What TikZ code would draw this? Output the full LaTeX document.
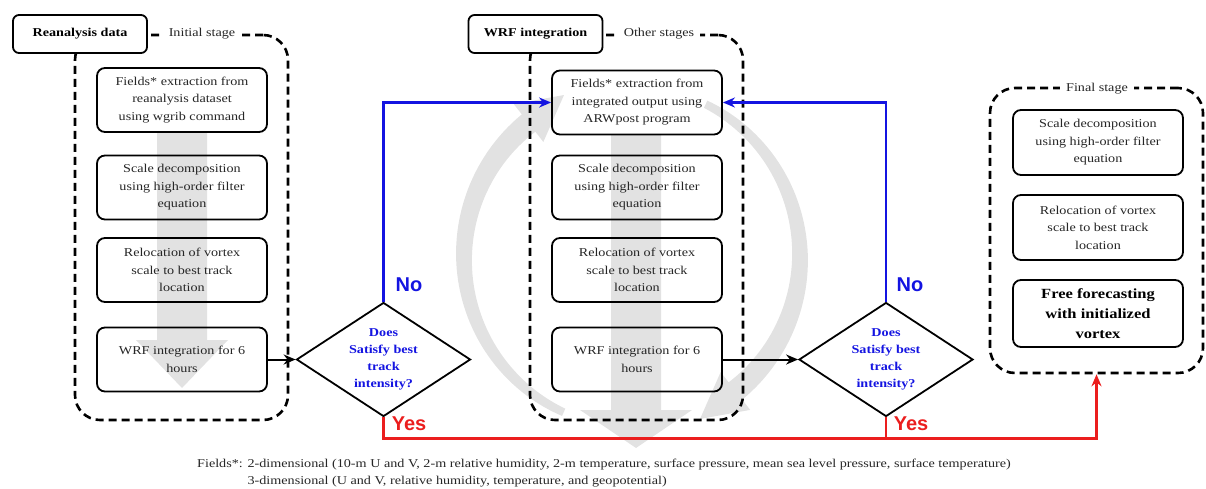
\documentclass[tikz,border=0pt]{standalone}
\usepackage{fontspec}
\setmainfont{Liberation Serif}[FakeStretch=1.18]
\newfontfamily\labelfont{Liberation Sans}
\usetikzlibrary{shapes.geometric,arrows.meta}
\definecolor{myblue}{RGB}{20,20,225}
\definecolor{myred}{RGB}{235,30,30}
\definecolor{garrow}{RGB}{226,226,226}
\tikzset{
  box/.style={draw, line width=1.8pt, rounded corners=8pt, minimum width=170pt, minimum height=64pt, align=center, text=black!85, font=\fontsize{12}{17.5}\selectfont, inner sep=0pt},
  hdr/.style={draw, line width=1.8pt, rounded corners=6pt, fill=white, minimum width=134pt, minimum height=38pt, inner sep=0pt, font=\bfseries\fontsize{12}{14}\selectfont},
  stageframe/.style={draw, dash pattern=on 8pt off 5pt, line width=2.6pt, rounded corners=25pt, inner sep=0pt},
  stg/.style={fill=white, inner xsep=6pt, inner ysep=2pt, font=\fontsize{12}{14}\selectfont, text=black!85},
  dec/.style={diamond, draw, line width=1.8pt, minimum width=174pt, minimum height=114pt, inner sep=0pt},
  dtxt/.style={align=center, text=myblue, font=\bfseries\fontsize{12}{17}\selectfont},
  yn/.style={font=\labelfont\bfseries\fontsize{20}{22}\selectfont},
  arr/.style={-{Stealth[length=12pt,width=10pt]}, line width=2pt},
}
\begin{document}
\begin{tikzpicture}[x=1pt,y=-1pt]
\useasboundingbox (0,0) rectangle (1206,488);
% gray background arrows
\fill[garrow] (157,132) -- (207,132) -- (207,340) -- (228,340) -- (182,388) -- (136,340) -- (157,340) -- cycle;
\fill[garrow] (611,135) -- (661,135) -- (661,410) -- (692,410) -- (636,448) -- (580,410) -- (611,410) -- cycle;
% left circular arrow
\fill[garrow] plot[domain=246:128, samples=60] ({632+(168+4+7*(246-\x)/118)*cos(\x)},{257-(170+4+7*(246-\x)/118)*sin(\x)})
  -- ({632+192*cos(128)},{257-194*sin(128)})
  -- ({632+174*cos(113)},{257-176*sin(113)})
  -- ({632+144*cos(128)},{257-146*sin(128)})
  -- plot[domain=128:246, samples=60] ({632+(168-4-7*(246-\x)/118)*cos(\x)},{257-(170-4-7*(246-\x)/118)*sin(\x)})
  -- cycle;
% right circular arrow
\fill[garrow] plot[domain=64:-52, samples=60] ({632+(168+4+7*(64-\x)/116)*cos(\x)},{257-(170+4+7*(64-\x)/116)*sin(\x)})
  -- ({632+192*cos(-52)},{257-194*sin(-52)})
  -- ({632+174*cos(-67)},{257-176*sin(-67)})
  -- ({632+144*cos(-52)},{257-146*sin(-52)})
  -- plot[domain=-52:64, samples=60] ({632+(168-4-7*(64-\x)/116)*cos(\x)},{257-(170-4-7*(64-\x)/116)*sin(\x)})
  -- cycle;
% stage frames
\node[stageframe, minimum width=213pt, minimum height=385pt] (lf) at (181.5,227.5) {};
\node[stageframe, minimum width=213pt, minimum height=385pt] (mf) at (636.5,227.5) {};
\node[stageframe, minimum width=213pt, minimum height=285pt] (ff) at (1096.5,230.5) {};
% headers and stage labels
\node[hdr] (rh) at (80,34) {Reanalysis data};
\node[stg] (rl) at (202,34) {Initial stage};
\node[hdr] (wh) at (535.5,34) {WRF integration};
\node[stg] (wl) at (659,34) {Other stages};
\node[stg] (fl) at (1097,89) {Final stage};
% left column
\node[box] (l1) at (182,100) {Fields* extraction from\\reanalysis dataset\\using wgrib command};
\node[box] (l2) at (182,187.5) {Scale decomposition\\using high-order filter\\equation};
\node[box] (l3) at (182,270) {Relocation of vortex\\scale to best track\\location};
\node[box] (l4) at (182,359.5) {WRF integration for 6\\hours};
% middle column
\node[box] (m1) at (637,102.5) {Fields* extraction from\\integrated output using\\ARWpost program};
\node[box] (m2) at (637,187.5) {Scale decomposition\\using high-order filter\\equation};
\node[box] (m3) at (637,270) {Relocation of vortex\\scale to best track\\location};
\node[box] (m4) at (637,359.5) {WRF integration for 6\\hours};
% final column
\node[box, minimum height=65pt] (f1) at (1098,142.5) {Scale decomposition\\using high-order filter\\equation};
\node[box, minimum height=65pt] (f2) at (1098,227.5) {Relocation of vortex\\scale to best track\\location};
\node[box, minimum height=67pt, text=black, font=\bfseries\fontsize{14}{20}\selectfont] (f3) at (1098,313.5) {Free forecasting\\with initialized\\vortex};
% decisions
\node[dec] (d1) at (383.5,359.5) {};
\node[dtxt] (d1t) at (d1) {Does\\Satisfy best\\track\\intensity?};
\node[dec] (d2) at (886,359.5) {};
\node[dtxt] (d2t) at (d2) {Does\\Satisfy best\\track\\intensity?};
% connectors
\draw[arr] (l4.east) -- (d1.west);
\draw[arr] (m4.east) -- (d2.west);
\draw[arr, myblue, line width=2.4pt] (d1.north) |- (m1.west);
\draw[arr, myblue, line width=2.4pt] (d2.north) |- (m1.east);
\draw[arr, myred, line width=2.4pt] (d1.south) -- ++(0,21) coordinate (rj) -| (ff.south);
\draw[myred, line width=2.4pt] (d2.south) -- (d2.south |- rj);
% yes/no labels
\node[yn, text=myblue] (no1) at (409,285) {No};
\node[yn, text=myblue] (no2) at (910,285) {No};
\node[yn, text=myred] (yes1) at (409,424) {Yes};
\node[yn, text=myred] (yes2) at (911,424) {Yes};
% footnote
\node[anchor=north west, inner sep=0pt, text=black!85, font=\fontsize{12}{17}\selectfont] (fn) at (197,455)
  {\begin{tabular}{@{}l@{ }l@{}}Fields*: & 2-dimensional (10-m U and V, 2-m relative humidity, 2-m temperature, surface pressure, mean sea level pressure, surface temperature)\\
  & 3-dimensional (U and V, relative humidity, temperature, and geopotential)\end{tabular}};
\end{tikzpicture}
\end{document}
